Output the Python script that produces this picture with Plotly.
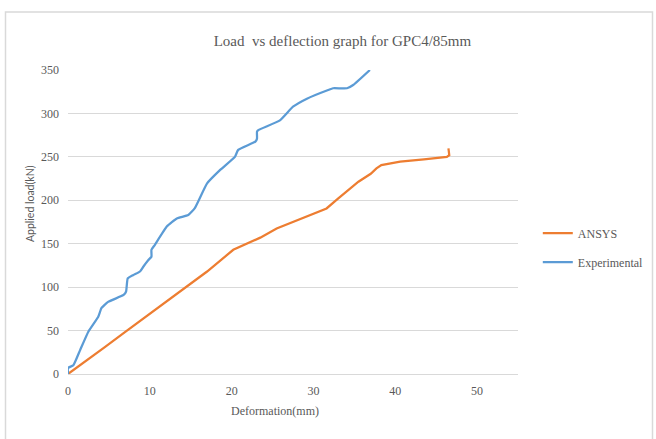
"""Load vs deflection chart for GPC4/85mm."""

import plotly.graph_objects as go

# ANSYS curve (deformation mm, load kN)
ansys_x = [0.0, 2.0, 4.5, 7.0, 9.2, 11.5, 14.5, 17.0, 20.2, 21.0, 23.5,
           25.5, 27.1, 29.5, 31.6, 33.0, 34.5, 35.5, 37.0, 37.7, 38.3,
           40.6, 43.5, 46.3, 46.6, 46.5]
ansys_y = [0.0, 13.5, 31.0, 48.5, 64.0, 80.0, 100.5, 118.0, 143.0, 146.6,
           157.0, 167.6, 173.4, 182.5, 190.6, 202.0, 213.8, 221.4, 230.5,
           236.7, 240.6, 244.4, 247.2, 250.0, 252.0, 259.7]

# Experimental curve
exp_x = [0.0, 0.0, 0.65, 1.5, 2.5, 3.7, 4.1, 4.9, 6.8, 7.1, 7.3, 8.0, 8.8,
         9.2, 9.8, 10.2, 10.2, 10.6, 12.1, 13.3, 14.7, 15.5, 17.0, 18.6,
         20.4, 20.8, 22.9, 23.1, 23.1, 23.3, 25.9, 27.5, 29.2, 31.8, 32.4,
         34.1, 34.9, 36.9]
exp_y = [0.0, 7.0, 10.0, 28.0, 49.0, 66.0, 76.0, 83.0, 91.0, 95.0, 110.0,
         114.0, 118.0, 123.5, 131.0, 135.0, 143.0, 148.5, 170.0, 179.0,
         183.0, 191.0, 219.5, 235.0, 250.0, 258.0, 267.5, 271.0, 279.0,
         281.0, 292.0, 307.7, 317.0, 327.0, 329.0, 329.0, 333.0, 350.0]

x_ticks = [0, 10, 20, 30, 40, 50]
y_ticks = [0, 50, 100, 150, 200, 250, 300, 350]

FONT = "Liberation Serif, Times New Roman, serif"
TEXT = "#595959"
GRID = "#D9D9D9"

fig = go.Figure()
fig.add_trace(go.Scatter(x=ansys_x, y=ansys_y, mode="lines", name="ANSYS",
                         legendgroup="a",
                         line=dict(color="#ED7D31", width=2.25)))
fig.add_trace(go.Scatter(x=exp_x, y=exp_y, mode="lines", name="Experimental",
                         legendgroup="b",
                         line=dict(color="#5B9BD5", width=2.25, shape="spline",
                                   smoothing=0.4)))

fig.update_layout(
    width=656,
    height=439,
    paper_bgcolor="white",
    plot_bgcolor="white",
    margin=dict(l=68, r=138, t=70, b=65, autoexpand=False),
    font=dict(family=FONT, size=12, color=TEXT),
    title=dict(text="Load  vs deflection graph for GPC4/85mm", x=0.522,
               xanchor="center", y=1 - 41 / 439, yanchor="middle",
               font=dict(family=FONT, size=15, color=TEXT)),
    legend=dict(x=1.044, y=(374 - 247.5) / 304, xanchor="left",
                yanchor="middle",
                font=dict(family=FONT, size=12, color=TEXT),
                itemwidth=30, tracegroupgap=10, bgcolor="rgba(0,0,0,0)"),
    xaxis=dict(range=[0, 55], tickvals=x_ticks, showgrid=False,
               showline=True, linecolor=GRID, linewidth=1, zeroline=False,
               ticks="", ticklabelstandoff=6,
               tickfont=dict(family=FONT, size=12, color=TEXT)),
    yaxis=dict(range=[0, 350], tickvals=y_ticks, showgrid=True,
               gridcolor=GRID, gridwidth=1, zeroline=False, showline=False,
               ticks="", ticklabelstandoff=8,
               tickfont=dict(family=FONT, size=12, color=TEXT)),
    annotations=[
        dict(text="Deformation(mm)", xref="paper", yref="paper",
             x=(275 - 68) / 450, y=-(411 - 374) / 304, showarrow=False,
             xanchor="center", yanchor="middle",
             font=dict(family=FONT, size=12, color=TEXT)),
        dict(text="Applied load(kN)", xref="paper", yref="paper",
             x=-(68 - 30) / 450, y=(374 - 204) / 304, showarrow=False,
             textangle=-90, xanchor="center", yanchor="middle",
             font=dict(family="Lato, sans-serif", size=10.5, color=TEXT)),
    ],
    shapes=[
        dict(type="rect", xref="paper", yref="paper",
             x0=(5.5 - 68) / 450, x1=(652.5 - 68) / 450,
             y0=(374 - 445) / 304, y1=(374 - 12) / 304,
             line=dict(color=GRID, width=1.5), layer="below"),
    ],
)

fig.write_html(
    "out.html",
    config={"displayModeBar": False, "responsive": False},
    post_script="document.body.style.margin='0';"
                "document.body.style.overflow='hidden';",
)
